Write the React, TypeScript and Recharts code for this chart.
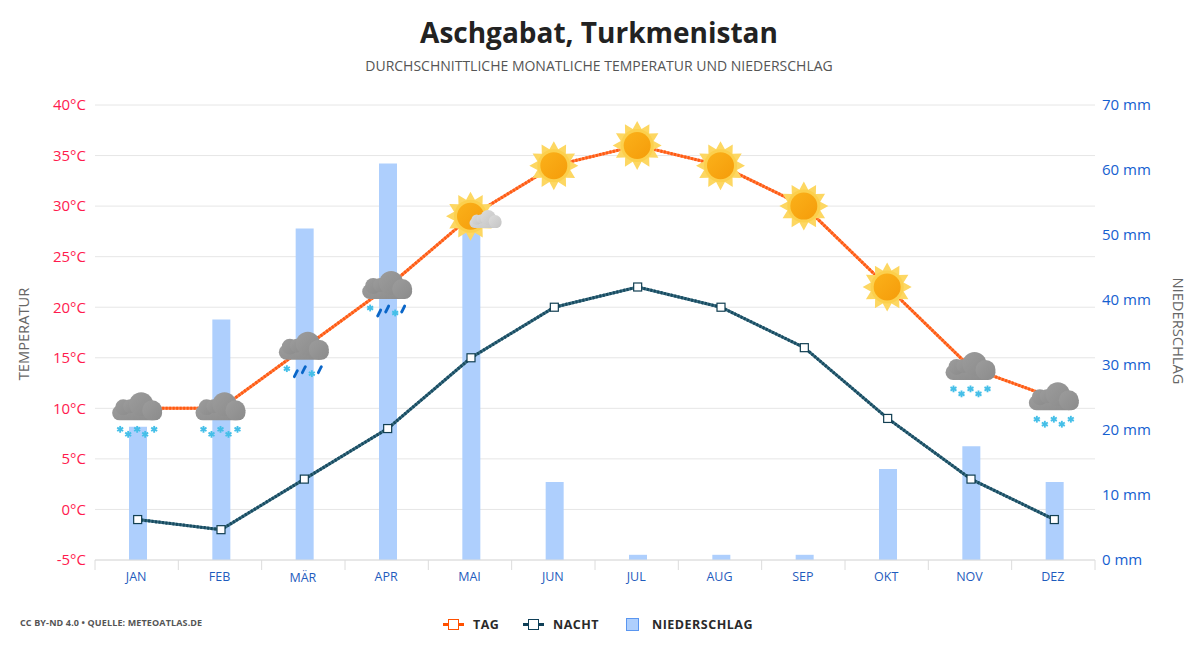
import React from 'react';
import { ComposedChart, Bar, Line, XAxis, YAxis, CartesianGrid, Legend } from 'recharts';

const months = ['JAN', 'FEB', 'MÄR', 'APR', 'MAI', 'JUN', 'JUL', 'AUG', 'SEP', 'OKT', 'NOV', 'DEZ'];
const dayTemps = [10, 10, 16, 22, 29, 34, 36, 34, 30, 22, 14, 11];
const nightTemps = [-1, -2, 3, 8, 15, 20, 22, 20, 16, 9, 3, -1];
const rainfall = [20.5, 37, 51, 61, 51, 12, 0.8, 0.8, 0.8, 14, 17.5, 12];
const weather = ['snow', 'snow', 'sleet', 'sleet', 'partly', 'sun', 'sun', 'sun', 'sun', 'sun', 'snow', 'snow'];
const tempTicks = [-5, 0, 5, 10, 15, 20, 25, 30, 35, 40];
const rainTicks = [0, 10, 20, 30, 40, 50, 60, 70];

const chartData = months.map((month, i) => ({
  month,
  tag: dayTemps[i],
  nacht: nightTemps[i],
  niederschlag: rainfall[i],
}));

const FONT = '"Open Sans", sans-serif';
const BAND = 1000 / 12;

const starPoints = (outer: number, inner: number, n: number) => {
  const pts: string[] = [];
  for (let i = 0; i < n * 2; i++) {
    const r = i % 2 === 0 ? outer : inner;
    const a = (Math.PI * i) / n - Math.PI / 2;
    pts.push(`${(r * Math.cos(a)).toFixed(2)},${(r * Math.sin(a)).toFixed(2)}`);
  }
  return pts.join(' ');
};

const Flake = ({ x, y }: { x: number; y: number }) => (
  <g transform={`translate(${x},${y})`} stroke="#45bfe8" strokeWidth={1.9}>
    <line x1={0} y1={-3.4} x2={0} y2={3.4} />
    <line x1={-3} y1={-1.7} x2={3} y2={1.7} />
    <line x1={-3} y1={1.7} x2={3} y2={-1.7} />
  </g>
);

const Drop = ({ x, y }: { x: number; y: number }) => (
  <line x1={x - 1.5} y1={y + 3} x2={x + 1.5} y2={y - 3} stroke="#0a66c8" strokeWidth={2.8} strokeLinecap="round" />
);

const Cloud = ({ fill }: { fill: string }) => (
  <g fill={fill}>
    <rect x={-25} y={-3} width={50} height={15} rx={7.5} />
    <circle cx={-14} cy={-1} r={8} />
    <circle cx={-7} cy={-2} r={7} />
    <circle cx={4} cy={-4} r={12} />
    <circle cx={15} cy={2} r={10} />
  </g>
);

const Sun = () => (
  <g>
    <polygon points={starPoints(24.5, 17, 12)} fill="#fdd762" />
    <circle r={16.5} fill="#fcd04d" />
    <circle r={13.5} fill="url(#sunCore)" />
  </g>
);

const WeatherDot = (props: any) => {
  const { cx, cy, index } = props;
  const kind = weather[index];
  return (
    <g key={index} transform={`translate(${cx - 0.5},${cy})`}>
      {(kind === 'sun' || kind === 'partly') && <Sun />}
      {kind === 'partly' && (
        <g transform="translate(15,4) scale(0.64)">
          <Cloud fill="url(#cloudLight)" />
        </g>
      )}
      {(kind === 'snow' || kind === 'sleet') && <Cloud fill="url(#cloudDark)" />}
      {kind === 'snow' && (
        <>
          <Flake x={-17} y={21} />
          <Flake x={-9} y={26} />
          <Flake x={0} y={21} />
          <Flake x={8} y={26} />
          <Flake x={17} y={21} />
        </>
      )}
      {kind === 'sleet' && (
        <>
          <Flake x={-17} y={21} />
          <Drop x={-8} y={26} />
          <Drop x={0} y={22} />
          <Flake x={8} y={26} />
          <Drop x={16} y={22} />
        </>
      )}
    </g>
  );
};

const NightDot = (props: any) => {
  const { cx, cy, index } = props;
  return <rect key={index} x={cx - 4} y={cy - 4} width={8} height={8} fill="#fff" stroke="#123f52" strokeWidth={1.2} />;
};

const MonthTick = (props: any) => {
  const { x, y, payload, index } = props;
  const left = x - BAND / 2 - 1;
  return (
    <g>
      <line x1={left} y1={y - 8} x2={left} y2={y + 2} stroke="#dcdcdc" />
      {index === months.length - 1 && <line x1={left + BAND} y1={y - 8} x2={left + BAND} y2={y + 2} stroke="#dcdcdc" />}
      <text
        x={x - 1.5}
        y={payload.value === 'MÄR' ? y + 14 : y + 13}
        textAnchor="middle"
        fill="#1f5cbd"
        fontSize={12.5}
        fontFamily={FONT}
      >
        {payload.value}
      </text>
    </g>
  );
};

const legendText: React.CSSProperties = {
  position: 'absolute',
  top: 0,
  fontFamily: FONT,
  fontSize: 12.5,
  fontWeight: 700,
  letterSpacing: 0.5,
  lineHeight: '18px',
  color: '#2a2a2a',
};

const LineKey = ({ left, color }: { left: number; color: string }) => (
  <div style={{ position: 'absolute', left, top: 0, width: 21, height: 18 }}>
    <div style={{ position: 'absolute', left: 0, top: 7, width: 21, height: 3, background: color }} />
    <div
      style={{
        position: 'absolute',
        left: 5,
        top: 3,
        width: 9,
        height: 9,
        background: '#fff',
        border: `1.5px solid ${color}`,
      }}
    />
  </div>
);

const ChartLegend = () => (
  <div style={{ position: 'relative', width: 1200, height: 18 }}>
    <LineKey left={443} color="#ff5000" />
    <div style={{ ...legendText, left: 473 }}>TAG</div>
    <LineKey left={523} color="#0f3f57" />
    <div style={{ ...legendText, left: 553 }}>NACHT</div>
    <div
      style={{
        position: 'absolute',
        left: 626,
        top: 2,
        width: 11,
        height: 11,
        background: '#aecffd',
        border: '1px solid #5a96f0',
      }}
    />
    <div style={{ ...legendText, left: 652 }}>NIEDERSCHLAG</div>
  </div>
);

const overlay: React.CSSProperties = {
  position: 'absolute',
  fontFamily: FONT,
  whiteSpace: 'nowrap',
};

export default function App() {
  return (
    <div style={{ position: 'absolute', left: 0, top: 0, width: 1200, height: 650, background: '#fff', overflow: 'hidden' }}>
      <div style={{ ...overlay, left: -1, width: 1200, top: 13, textAlign: 'center', fontSize: 28, fontWeight: 700, color: '#222', lineHeight: '38px' }}>
        Aschgabat, Turkmenistan
      </div>
      <div style={{ ...overlay, left: -1, width: 1200, top: 56, textAlign: 'center', fontSize: 14, color: '#555', lineHeight: '20px' }}>
        DURCHSCHNITTLICHE MONATLICHE TEMPERATUR UND NIEDERSCHLAG
      </div>
      <div style={{ ...overlay, left: 20, top: 616, fontSize: 9, fontWeight: 700, color: '#555', letterSpacing: 0.13, lineHeight: '14px' }}>
        CC BY-ND 4.0 • QUELLE: METEOATLAS.DE
      </div>
      <div style={{ ...overlay, left: 23, top: 334, fontSize: 14.7, color: '#666', transform: 'translate(-50%,-50%) rotate(-90deg)' }}>
        TEMPERATUR
      </div>
      <div style={{ ...overlay, left: 1179, top: 331, fontSize: 14.7, color: '#666', transform: 'translate(-50%,-50%) rotate(90deg)' }}>
        NIEDERSCHLAG
      </div>
      <ComposedChart
        width={1200}
        height={650}
        data={chartData}
        margin={{ top: 105, right: 45, bottom: 42, left: 35 }}
        style={{ position: 'absolute', left: 0, top: 0 }}
      >
        <defs>
          <linearGradient id="sunCore" x1="0" y1="0" x2="1" y2="1">
            <stop offset="0%" stopColor="#fbb11a" />
            <stop offset="100%" stopColor="#f59c0a" />
          </linearGradient>
          <linearGradient id="cloudDark" x1="0" y1="0" x2="1" y2="1">
            <stop offset="0%" stopColor="#9c9c9c" />
            <stop offset="100%" stopColor="#8b8b8b" />
          </linearGradient>
          <linearGradient id="cloudLight" x1="0" y1="0" x2="1" y2="1">
            <stop offset="0%" stopColor="#dcdcdc" />
            <stop offset="100%" stopColor="#c4c4c4" />
          </linearGradient>
        </defs>
        <CartesianGrid horizontal vertical={false} stroke="#e6e6e6" yAxisId="temp" />
        <XAxis
          dataKey="month"
          height={30}
          tick={MonthTick}
          tickLine={false}
          axisLine={{ stroke: '#dcdcdc' }}
          interval={0}
          padding={{ left: 1, right: -1 }}
        />
        <YAxis
          yAxisId="temp"
          width={60}
          domain={[-5, 40]}
          ticks={tempTicks}
          tickFormatter={(v: number) => `${v}°C`}
          tick={{ fill: '#ff1a4e', fontSize: 15, fontFamily: FONT }}
          tickLine={false}
          axisLine={false}
          tickMargin={3}
        />
        <YAxis
          yAxisId="rain"
          orientation="right"
          width={60}
          domain={[0, 70]}
          ticks={rainTicks}
          tickFormatter={(v: number) => `${v} mm`}
          tick={{ fill: '#1560d0', fontSize: 15, fontFamily: FONT }}
          tickLine={false}
          axisLine={false}
          tickMargin={1}
        />
        <Bar yAxisId="rain" dataKey="niederschlag" barSize={18} fill="#aecffd" isAnimationActive={false} />
        <Line yAxisId="temp" dataKey="nacht" type="linear" stroke="#3a6d80" strokeWidth={3} dot={false} legendType="none" isAnimationActive={false} />
        <Line yAxisId="temp" dataKey="nacht" type="linear" stroke="#174a60" strokeWidth={3} strokeDasharray="2 1.5" dot={NightDot} isAnimationActive={false} />
        <Line yAxisId="temp" dataKey="tag" type="linear" stroke="#ff7d45" strokeWidth={3} dot={false} legendType="none" isAnimationActive={false} />
        <Line yAxisId="temp" dataKey="tag" type="linear" stroke="#ff5a10" strokeWidth={3} strokeDasharray="2 1.5" dot={WeatherDot} isAnimationActive={false} />
        <Legend
          content={ChartLegend}
          verticalAlign="bottom"
          wrapperStyle={{ position: 'absolute', left: 0, top: 616, bottom: 'auto', width: 1200 }}
        />
      </ComposedChart>
    </div>
  );
}
